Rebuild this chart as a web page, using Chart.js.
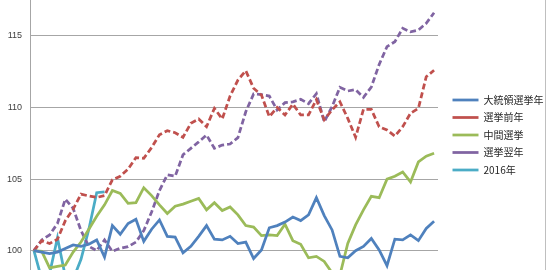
<!DOCTYPE html>
<html>
<head>
<meta charset="utf-8">
<script src="https://cdn.jsdelivr.net/npm/chart.js@4.4.1/dist/chart.umd.min.js"></script>
<style>
  html, body { margin: 0; padding: 0; background: #fff; }
  #wrap { width: 545px; height: 270px; border-right: 1px solid #bfbfbf; }
  canvas { display: block; }
</style>
</head>
<body>
<div id="wrap"><canvas id="Chart" width="545" height="270"></canvas></div>
<script>
// weekly index, week 1 = 100
const weeks = [1, 2, 3, 4, 5, 6, 7, 8, 9, 10, 11, 12, 13, 14, 15, 16, 17, 18, 19, 20,
  21, 22, 23, 24, 25, 26, 27, 28, 29, 30, 31, 32, 33, 34, 35, 36, 37, 38, 39, 40,
  41, 42, 43, 44, 45, 46, 47, 48, 49, 50, 51, 52];

const seriesNames = ["大統領選挙年", "選挙前年", "中間選挙", "選挙翌年", "2016年"];

const presYear = [100.0, 99.9, 99.8, 99.9, 100.15, 100.4, 100.3, 100.45, 100.75, 99.55,
  101.75, 101.15, 101.9, 102.2, 100.65, 101.5, 102.15, 101.0, 100.95, 99.85,
  100.3, 101.0, 101.75, 100.8, 100.75, 101.0, 100.5, 100.6, 99.45, 100.05,
  101.6, 101.75, 102.0, 102.35, 102.1, 102.5, 103.7, 102.45, 101.45, 99.6,
  99.5, 100.0, 100.3, 100.85, 100.05, 98.95, 100.8, 100.75, 101.1, 100.7,
  101.55, 102.05];

const preElection = [100.0, 100.7, 100.5, 100.8, 102.1, 102.9, 103.95, 103.82, 103.72, 103.85,
  104.95, 105.2, 105.7, 106.5, 106.45, 107.2, 108.1, 108.38, 108.24, 107.92,
  108.9, 109.2, 108.66, 109.94, 109.2, 110.8, 111.92, 112.57, 111.35, 110.87,
  109.36, 110.0, 109.48, 110.24, 109.48, 109.48, 110.55, 109.15, 109.83, 110.4,
  109.24, 107.92, 109.87, 109.87, 108.66, 108.43, 108.0, 108.66, 109.6, 109.94,
  112.15, 112.6];

const midterm = [100.0, 99.95, 98.8, 98.9, 99.0, 99.9, 100.6, 101.5, 102.4, 103.2,
  104.2, 104.0, 103.3, 103.35, 104.4, 103.85, 103.2, 102.6, 103.1, 103.25,
  103.45, 103.65, 102.85, 103.35, 102.8, 103.05, 102.5, 101.75, 101.65, 101.05,
  101.1, 101.05, 101.85, 100.7, 100.45, 99.5, 99.6, 99.25, 98.45, 98.3,
  100.5, 101.8, 102.85, 103.8, 103.7, 105.0, 105.2, 105.5, 104.8, 106.2,
  106.6, 106.8];

const postElection = [100.0, 100.75, 101.1, 101.9, 103.6, 102.95, 101.4, 100.3, 100.0, 100.75,
  99.95, 100.17, 100.28, 100.6, 101.4, 102.7, 104.2, 105.3, 105.2, 106.7,
  107.15, 107.6, 108.08, 107.15, 107.38, 107.45, 107.9, 109.7, 110.95, 110.9,
  110.8, 109.83, 110.34, 110.4, 110.57, 110.27, 110.97, 109.0, 110.06, 111.41,
  111.15, 111.25, 110.71, 111.43, 113.0, 114.25, 114.6, 115.53, 115.29, 115.41,
  115.88, 116.62];

const year2016 = [100.0, 98.0, 98.4, 100.9, 98.2, 98.0, 99.4, 101.5, 104.05, 104.1];

const yTicks = [100, 105, 110, 115];

Chart.defaults.font.family = "'Noto Sans CJK JP', 'Liberation Sans', sans-serif";
Chart.defaults.color = "#404040";

function lineSet(label, data, color, dashed) {
  return {
    label: label,
    data: data,
    borderColor: color,
    backgroundColor: color,
    borderWidth: 2.75,
    borderDash: dashed ? [6, 3] : [],
    pointRadius: 0,
    pointHoverRadius: 0,
    tension: 0,
    fill: false,
  };
}

const data = {
  labels: weeks,
  datasets: [
    lineSet(seriesNames[0], presYear, "#4F81BD", false),
    lineSet(seriesNames[1], preElection, "#C0504D", true),
    lineSet(seriesNames[2], midterm, "#9BBB59", false),
    lineSet(seriesNames[3], postElection, "#8064A2", true),
    lineSet(seriesNames[4], year2016, "#4BACC6", false),
  ],
};

const config = {
  type: "line",
  data,
  options: {
    responsive: false,
    animation: false,
    layout: { padding: 0, autoPadding: false },
    scales: {
      x: {
        display: false,
        offset: true,
      },
      y: {
        position: "left",
        min: 98.65,
        max: 117.51,
        afterBuildTicks: (s) => {
          s.ticks = yTicks.map((v) => ({ value: v }));
        },
        afterFit: (s) => {
          s.width = 30;
          s.paddingTop = 0;
          s.paddingBottom = 0;
        },
        grid: { color: "#a6a6a6", drawTicks: false },
        border: { color: "#a6a6a6" },
        ticks: {
          padding: 8,
          color: "#404040",
          font: { family: "'Liberation Sans', sans-serif", size: 9 },
        },
      },
      gap: {
        position: "right",
        display: true,
        grid: { display: false },
        border: { display: false },
        ticks: { display: false },
        afterFit: (s) => {
          s.width = 7;
          s.paddingTop = 0;
          s.paddingBottom = 0;
        },
      },
    },
    plugins: {
      tooltip: { enabled: false },
      legend: {
        position: "right",
        maxWidth: 100,
        labels: {
          usePointStyle: true,
          pointStyle: "line",
          pointStyleWidth: 26,
          padding: 7.5,
          color: "#262626",
          font: { size: 10 },
        },
      },
    },
  },
};

new Chart(document.getElementById("Chart"), config);
</script>
</body>
</html>
